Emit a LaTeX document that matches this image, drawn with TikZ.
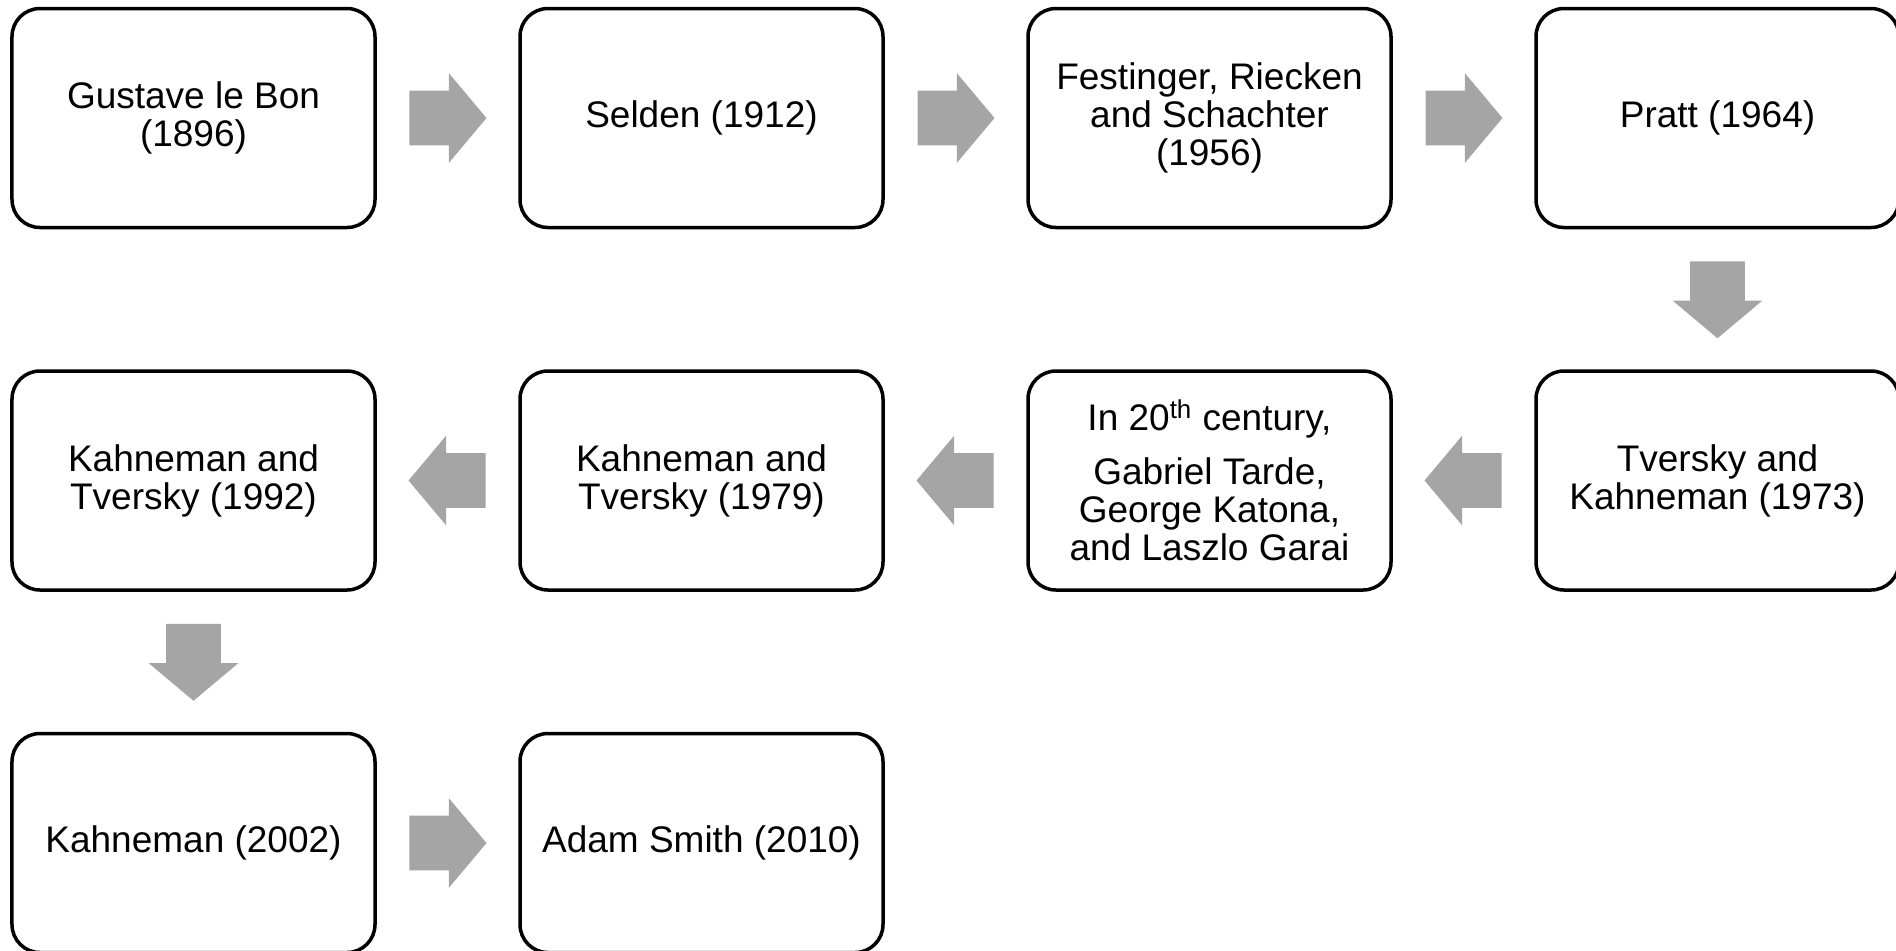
\documentclass[tikz,border=0pt]{standalone}
\usepackage{fontspec}
\setmainfont{Liberation Sans}
\usetikzlibrary{positioning, shapes.arrows}
\definecolor{arrowgray}{HTML}{A5A5A5}
\tikzset{
node distance=70pt and 70.75pt, % vertical and horizontal gap between the boxes
box/.style={draw, line width=1.75pt, rounded corners=14pt, minimum width=181.5pt, minimum height=109.5pt, align=center, inner sep=2pt, font=\fontsize{18.5pt}{19pt}\selectfont}, % one step of the timeline
blockarrow/.style={single arrow, fill=arrowgray, inner xsep=0pt, inner ysep=13.5pt, single arrow head extend=8.75pt, single arrow tip angle=100, minimum height=38.5pt, rotate=#1, xshift=-5.5pt}, % grey block arrow, #1 = direction it points to
blockarrow/.default=0,
}
\begin{document}
\begin{tikzpicture}
                \path[use as bounding box, clip] (-96.75pt,59pt) rectangle (851.25pt,-416pt);
                \node[box] (lebon) {Gustave le Bon\\(1896)};
                \node[box, right=of lebon] (selden) {Selden (1912)};
                \node[box, right=of selden] (festinger) {Festinger, Riecken\\and Schachter\\(1956)};
                \node[box, right=of festinger] (pratt) {Pratt (1964)};
                \node[box, below=of pratt] (tversky73) {Tversky and\\Kahneman (1973)};
                \node[box, below=of festinger] (tarde) {In 20\textsuperscript{th} century,\\[8pt]Gabriel Tarde,\\George Katona,\\and Laszlo Garai};
                \node[box, below=of selden] (kahneman79) {Kahneman and\\Tversky (1979)};
                \node[box, below=of lebon] (kahneman92) {Kahneman and\\Tversky (1992)};
                \node[box, below=of kahneman92] (kahneman02) {Kahneman (2002)};
                \node[box, right=of kahneman02] (smith) {Adam Smith (2010)};
                \path
                    (lebon) -- node[blockarrow] (a1) {} (selden)
                    (selden) -- node[blockarrow] (a2) {} (festinger)
                    (festinger) -- node[blockarrow] (a3) {} (pratt)
                    (pratt) -- node[blockarrow=-90] (a4) {} (tversky73)
                    (tversky73) -- node[blockarrow=180] (a5) {} (tarde)
                    (tarde) -- node[blockarrow=180] (a6) {} (kahneman79)
                    (kahneman79) -- node[blockarrow=180] (a7) {} (kahneman92)
                    (kahneman92) -- node[blockarrow=-90] (a8) {} (kahneman02)
                    (kahneman02) -- node[blockarrow] (a9) {} (smith)
                    ;
            \end{tikzpicture}
\end{document}
